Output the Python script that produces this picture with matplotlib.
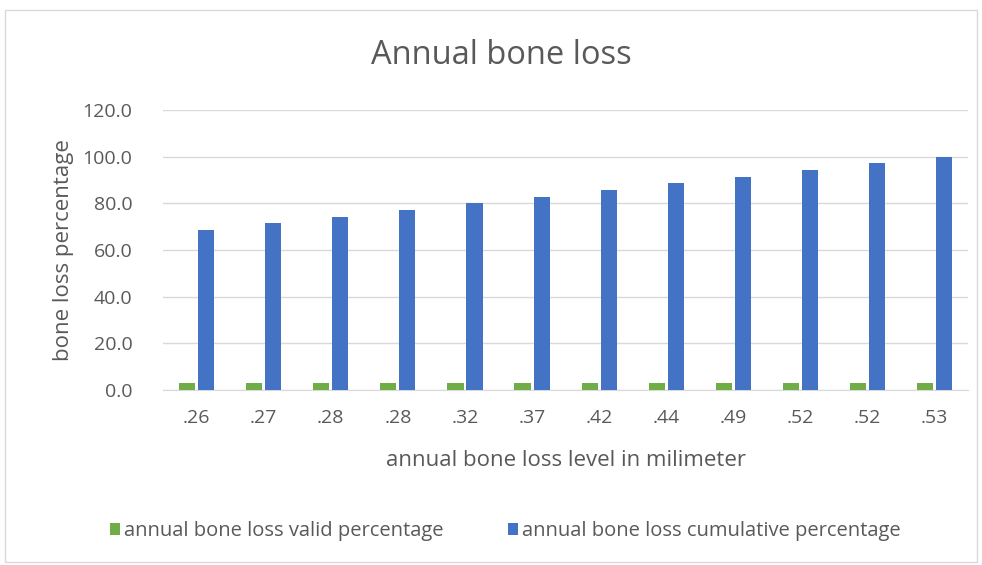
import matplotlib.pyplot as plt
import numpy as np
from matplotlib.patches import Rectangle

plt.rcParams['font.family'] = ['Open Sans', 'DejaVu Sans']

categories = ['.26', '.27', '.28', '.28', '.32', '.37', '.42', '.44', '.49', '.52', '.52', '.53']
valid_pct = [2.9, 2.9, 2.9, 2.9, 2.9, 2.9, 2.9, 2.9, 2.9, 2.9, 2.9, 2.9]
cumulative_pct = [68.6, 71.4, 74.3, 77.1, 80.0, 82.9, 85.7, 88.6, 91.4, 94.3, 97.1, 100.0]

text_color = '#595959'
green = '#70AD47'
blue = '#4472C4'

fig = plt.figure(figsize=(9.82, 5.65), dpi=100)
ax = fig.add_axes([0.166, 0.3097, 0.820, 0.4956])

# chart frame
fig.patches.append(Rectangle((0.005, 0.005), 0.99, 0.977, transform=fig.transFigure,
                             fill=False, edgecolor='#D9D9D9', linewidth=1))

x = np.arange(len(categories))
w = 0.24
ax.bar(x - 0.142, valid_pct, w, color=green, label='annual bone loss valid percentage', zorder=3)
ax.bar(x + 0.142, cumulative_pct, w, color=blue, label='annual bone loss cumulative percentage', zorder=3)

ax.set_xlim(-0.5, len(categories) - 0.5)
ax.set_ylim(0, 120)
ax.set_yticks(np.arange(0, 121, 20))
ax.set_yticklabels([f'{v:.1f}' for v in np.arange(0, 121, 20)])
ax.set_xticks(x)
ax.set_xticklabels(categories)
ax.tick_params(axis='both', length=0, labelsize=14, colors=text_color)
ax.tick_params(axis='x', pad=14)
ax.tick_params(axis='y', pad=22)
ax.grid(axis='y', color='#D9D9D9', linewidth=1, zorder=0)
for s in ['top', 'right', 'left']:
    ax.spines[s].set_visible(False)
ax.spines['bottom'].set_color('#D9D9D9')

ax.set_xlabel('annual bone loss level in milimeter', fontsize=16, color=text_color, labelpad=16)
ax.set_ylabel('bone loss percentage', fontsize=16, color=text_color, labelpad=6)
fig.text(0.511, 0.902, 'Annual bone loss', ha='center', va='center', fontsize=23.5, color=text_color)

leg = fig.legend(loc='center', bbox_to_anchor=(0.515, 0.06), ncol=2, frameon=False,
                 fontsize=14.5, handlelength=0.5, handleheight=0.5, handletextpad=0.2,
                 columnspacing=3.2, labelcolor=text_color)

fig.savefig('out.png', dpi=100)
